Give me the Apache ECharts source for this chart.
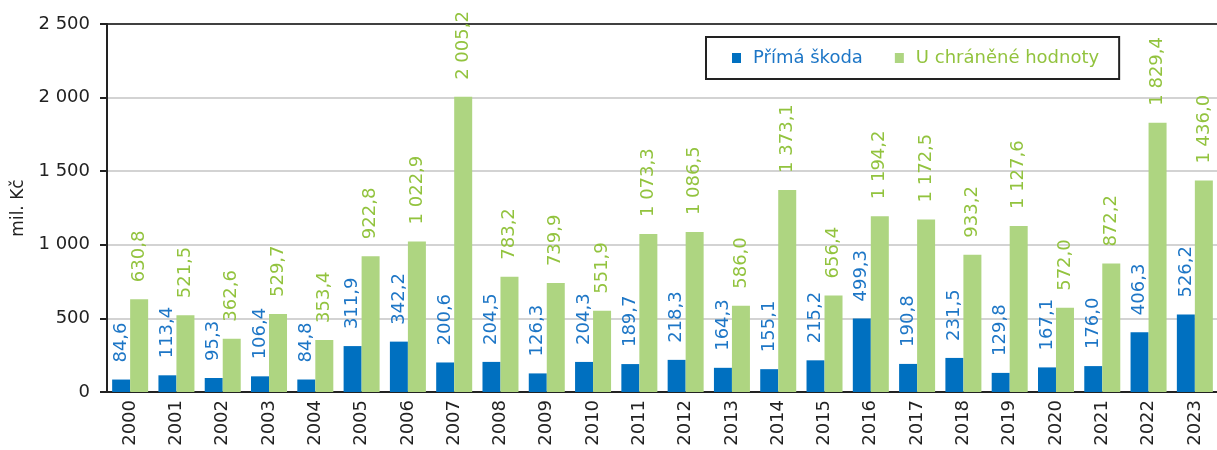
<!DOCTYPE html>
<html>
<head>
<meta charset="utf-8">
<script src="https://cdn.jsdelivr.net/npm/echarts@6/dist/echarts.min.js"></script>
<style>
  html, body { margin: 0; padding: 0; background: #fff; }
  #chart { width: 1217px; height: 450px; }
</style>
</head>
<body>
<div id="chart"></div>
<script>
var years = ['2000', '2001', '2002', '2003', '2004', '2005', '2006', '2007', '2008', '2009', '2010', '2011',
  '2012', '2013', '2014', '2015', '2016', '2017', '2018', '2019', '2020', '2021', '2022', '2023']
var primaSkoda = [84.6, 113.4, 95.3, 106.4, 84.8, 311.9, 342.2, 200.6, 204.5, 126.3, 204.3, 189.7,
  218.3, 164.3, 155.1, 215.2, 499.3, 190.8, 231.5, 129.8, 167.1, 176.0, 406.3, 526.2]
var uchraneneHodnoty = [630.8, 521.5, 362.6, 529.7, 353.4, 922.8, 1022.9, 2005.2, 783.2, 739.9, 551.9, 1073.3,
  1086.5, 586.0, 1373.1, 656.4, 1194.2, 1172.5, 933.2, 1127.6, 572.0, 872.2, 1829.4, 1436.0]
var seriesNames = ['Přímá škoda', 'U chráněné hodnoty']

var FONT = '"DejaVu Sans", Verdana, sans-serif'
var BLUE = '#0070C0'
var GREEN = '#AED581'
var BLUE_TEXT = '#1D76C6'
var GREEN_TEXT = '#92C33E'

// cesky format: mezera jako oddelovac tisicu, carka jako desetinna
function czNum(v, dec) {
  var s = v.toFixed(dec)
  var parts = s.split('.')
  var intPart = parts[0].replace(/\B(?=(\d{3})+(?!\d))/g, ' ')
  return parts.length > 1 ? intPart + ',' + parts[1] : intPart
}

function barLabel(color) {
  return {
    show: true,
    position: 'top',
    distance: 17,
    rotate: 90,
    align: 'left',
    verticalAlign: 'middle',
    color: color,
    fontFamily: FONT,
    fontSize: 18,
    formatter: function(p) {
      return czNum(p.value, 1)
    }
  }
}

var chart = echarts.init(document.getElementById('chart'), null, { renderer: 'canvas' })

chart.setOption({
  animation: false,
  grid: {
    left: 107,
    top: 24,
    width: 1111,
    height: 368,
    outerBoundsMode: 'none',
    show: true,
    borderColor: '#404040',
    borderWidth: 2
  },
  legend: {
    left: 706,
    top: 37,
    orient: 'horizontal',
    padding: [12, 20, 12, 26],
    itemWidth: 9,
    itemHeight: 10,
    itemGap: 32,
    borderColor: '#222',
    borderWidth: 2,
    icon: 'rect',
    selectedMode: false,
    textStyle: {
      fontFamily: FONT,
      fontSize: 18,
      padding: [0, 0, 0, 7]
    },
    data: [
      { name: seriesNames[0], textStyle: { color: BLUE_TEXT } },
      { name: seriesNames[1], textStyle: { color: GREEN_TEXT } }
    ]
  },
  xAxis: {
    type: 'category',
    data: years,
    axisLine: { lineStyle: { color: '#222', width: 2 } },
    axisTick: { length: 7, lineStyle: { color: '#222', width: 2 } },
    axisLabel: {
      rotate: 90,
      margin: 8,
      interval: 0,
      color: '#222',
      fontFamily: FONT,
      fontSize: 18
    }
  },
  yAxis: {
    type: 'value',
    min: 0,
    max: 2500,
    interval: 500,
    name: 'mil. Kč',
    nameLocation: 'middle',
    nameGap: 74,
    nameRotate: 90,
    nameTextStyle: {
      color: '#222',
      fontFamily: FONT,
      fontSize: 17
    },
    axisLine: { show: true, lineStyle: { color: '#222', width: 2 } },
    axisTick: { show: true, length: 7, lineStyle: { color: '#222', width: 2 } },
    axisLabel: {
      margin: 17,
      color: '#222',
      fontFamily: FONT,
      fontSize: 18,
      formatter: function(v) {
        return czNum(v, 0)
      }
    },
    splitLine: {
      lineStyle: {
        color: ['#C4C4C4', '#C4C4C4', '#C4C4C4', '#C4C4C4', '#C4C4C4', '#404040'],
        width: 1.5
      }
    }
  },
  series: [
    {
      name: seriesNames[0],
      type: 'bar',
      data: primaSkoda,
      barWidth: 18,
      barGap: '0%',
      itemStyle: { color: BLUE },
      label: barLabel(BLUE_TEXT)
    },
    {
      name: seriesNames[1],
      type: 'bar',
      data: uchraneneHodnoty,
      barWidth: 18,
      barGap: '0%',
      itemStyle: { color: GREEN },
      label: barLabel(GREEN_TEXT)
    }
  ]
})
</script>
</body>
</html>
